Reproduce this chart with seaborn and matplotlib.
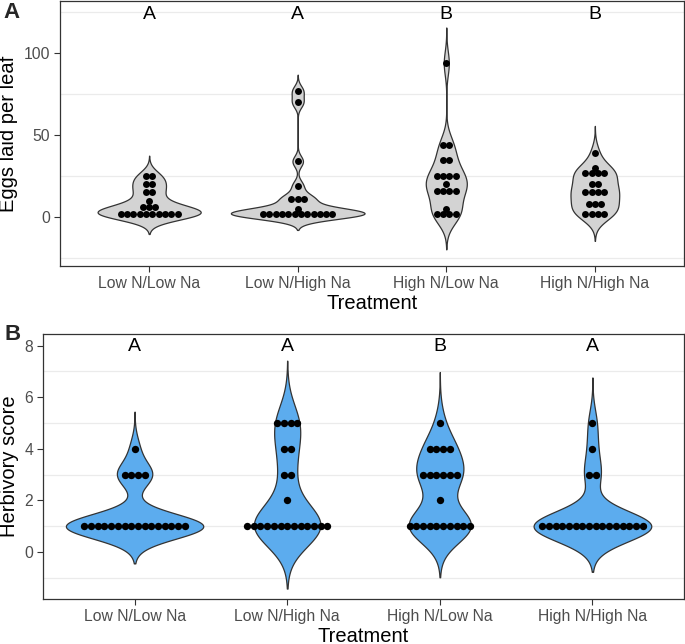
import numpy as np
import pandas as pd
import matplotlib
matplotlib.use("Agg")
import matplotlib.pyplot as plt
import seaborn as sns

sns.set_style("white")
plt.rcParams['font.family'] = ['Liberation Sans', 'DejaVu Sans']

treatments = ["Low N/Low Na", "Low N/High Na", "High N/Low Na", "High N/High Na"]

# Panel A: eggs laid per leaf (read from dot rows)
eggs_ln_lna = [2]*10 + [6]*3 + [10] + [15]*2 + [20]*2 + [25]*2
eggs_ln_hna = [2]*12 + [5] + [11]*3 + [19] + [34] + [70] + [77]
eggs_hn_lna = [2]*4 + [5] + [16]*4 + [20] + [25]*4 + [35]*2 + [44]*2 + [94]
eggs_hn_hna = [2]*4 + [8]*3 + [15]*4 + [20]*2 + [27]*4 + [30] + [39]
eggs_letters = ["A", "A", "B", "B"]

# Panel B: herbivory score
herb_ln_lna = [1]*16 + [3]*4 + [4]
herb_ln_hna = [1]*13 + [2] + [3]*2 + [4]*2 + [5]*4
herb_hn_lna = [1]*10 + [2] + [3]*6 + [4]*4 + [5]
herb_hn_hna = [1]*16 + [3]*2 + [4] + [5]
herb_letters = ["A", "A", "B", "A"]

eggs_groups = [eggs_ln_lna, eggs_ln_hna, eggs_hn_lna, eggs_hn_hna]
herb_groups = [herb_ln_lna, herb_ln_hna, herb_hn_lna, herb_hn_hna]


def nrd0(kde):
    x = np.asarray(kde.dataset).ravel()
    sd = np.std(x, ddof=1)
    q75, q25 = np.percentile(x, [75, 25])
    lo = min(sd, (q75 - q25) / 1.34)
    if lo == 0:
        lo = sd if sd > 0 else 1.0
    h = 0.9 * lo * len(x) ** -0.2
    return h / sd


def to_df(groups):
    rows = []
    for t, vals in zip(treatments, groups):
        for v in vals:
            rows.append((t, v))
    return pd.DataFrame(rows, columns=["Treatment", "value"])


GRID = "#EBEBEB"
DARK = "#333333"
TICKC = "#4D4D4D"


def panel(ax, groups, fill, ylim, yticks, minor, letters, letter_y, ylabel, spacing, dot_s):
    df = to_df(groups)
    sns.violinplot(data=df, x="Treatment", y="value", order=treatments, color=fill,
                   saturation=1, linecolor=DARK, linewidth=0.9, inner=None, cut=3,
                   width=0.9, bw_method=nrd0, density_norm="area", gridsize=512, ax=ax)
    for i, vals in enumerate(groups):
        u, c = np.unique(vals, return_counts=True)
        xs, ys = [], []
        for val, k in zip(u, c):
            for j in range(k):
                xs.append(i + (j - (k - 1) / 2) * spacing)
                ys.append(val)
        ax.scatter(xs, ys, s=dot_s, color="black", linewidths=0, zorder=5)
    for i, l in enumerate(letters):
        ax.text(i, letter_y, l, ha="center", va="center", fontsize=14, color="black")
    ax.set_xlim(-0.6, 3.6)
    ax.set_ylim(*ylim)
    ax.set_yticks(yticks)
    ax.set_yticks(minor, minor=True)
    ax.yaxis.grid(True, which="minor", color=GRID, linewidth=0.9)
    ax.xaxis.grid(False)
    ax.yaxis.grid(False, which="major")
    ax.set_axisbelow(True)
    ax.tick_params(which="minor", length=0)
    ax.tick_params(which="major", length=4, width=0.8, color=DARK, labelcolor=TICKC,
                   labelsize=11.3, pad=3, bottom=True, left=True)
    for sp in ax.spines.values():
        sp.set_visible(True)
        sp.set_color(DARK)
        sp.set_linewidth(0.9)
    ax.set_xlabel("Treatment", fontsize=14.5, labelpad=2, color="black")
    ax.set_ylabel(ylabel, fontsize=14.5, labelpad=4, color="black")


fig = plt.figure(figsize=(6.85, 6.44), dpi=100)
axA = fig.add_axes([60/685, 1 - 266/644, 624/685, 265/644])
axB = fig.add_axes([43/685, 1 - 599/644, 641/685, 265/644])

panel(axA, eggs_groups, "#D3D3D3", (-30, 132), [0, 50, 100], [-25, 25, 75, 125],
      eggs_letters, 124, "Eggs laid per leaf", 0.0425, 25)
panel(axB, herb_groups, "#5CACEE", (-1.82, 8.45), [0, 2, 4, 6, 8], [-1, 1, 3, 5, 7],
      herb_letters, 7.95, "Herbivory score", 0.0438, 28)

fig.text(3/685, 1 - 12/644, "A", fontsize=16, fontweight="bold", ha="left", va="center")
fig.text(4/685, 1 - 335/644, "B", fontsize=16, fontweight="bold", ha="left", va="center")

fig.savefig("out.png", dpi=100)
